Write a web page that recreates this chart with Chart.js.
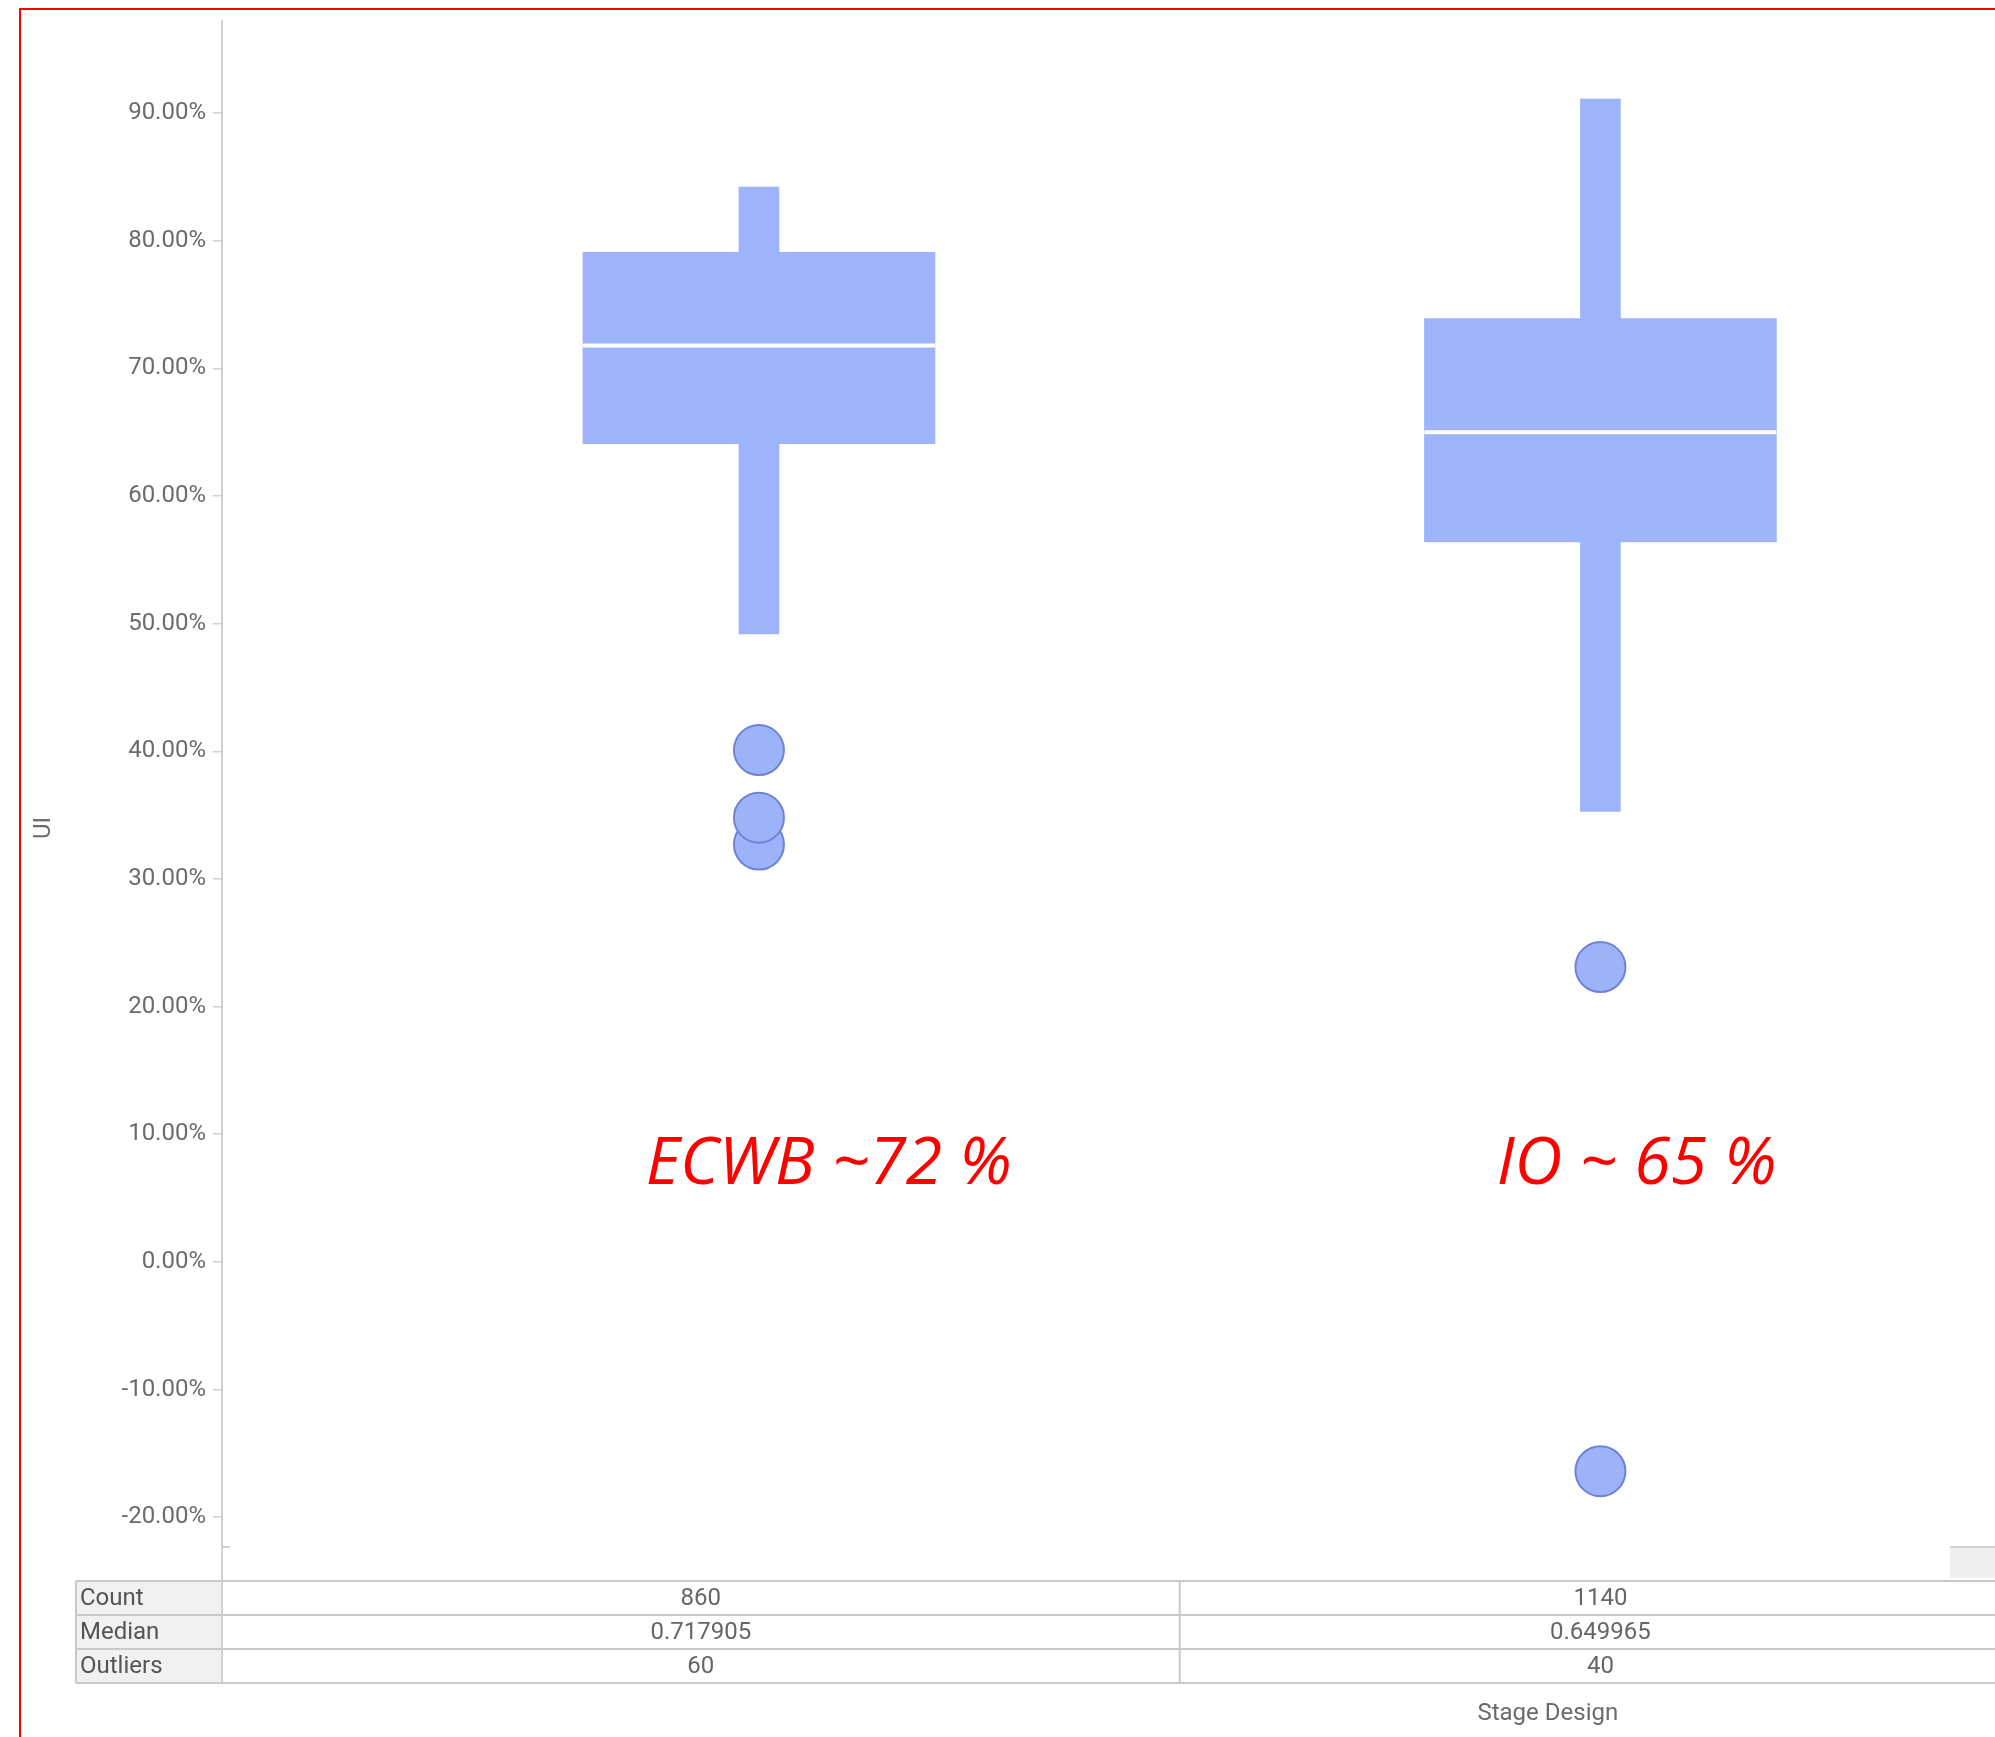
<!DOCTYPE html>
<html>
<head>
<meta charset="utf-8">
<script src="https://cdn.jsdelivr.net/npm/chart.js@4.4.1/dist/chart.umd.min.js"></script>
<style>
  html, body { margin: 0; padding: 0; background: #ffffff; overflow: hidden; }
  #wrap { position: relative; width: 1995px; height: 1737px; }
  #frame { position: absolute; left: 19px; top: 8px; width: 1995px; height: 1760px;
           border-top: 2px solid #ff0000; border-left: 2px solid #ff0000; pointer-events: none; z-index: 2; }
  canvas { position: absolute; left: 0; top: 0; }
</style>
</head>
<body>
<div id="wrap">
  <canvas id="c" width="1995" height="1737"></canvas>
  <div id="frame"></div>
</div>
<script>
// ---- data ----
const categories = ['ECWB', 'IO'];
const whiskerLow = [49.2, 35.3];
const whiskerHigh = [84.2, 91.1];
const q1 = [64.1, 56.4];
const q3 = [79.1, 73.9];
const medians = [71.79, 65.0];
const outlierCat = [0, 0, 0, 1, 1];
const outlierVals = [40.1, 32.7, 34.8, 23.1, -16.4];
const yTicks = [-20, -10, 0, 10, 20, 30, 40, 50, 60, 70, 80, 90];
const tableRows = ['Count', 'Median', 'Outliers'];
const counts = ['860', '1140'];
const medianText = ['0.717905', '0.649965'];
const outlierCounts = ['60', '40'];
const annotations = ['ECWB ~72 %', 'IO ~ 65 %'];
const yTitle = 'UI';
const xTitle = 'Stage Design';

// ---- styles ----
const BOX = '#9db4fb';
const GRAYTXT = '#6b6b6b';
const LINE = '#c9c9c9';

const annotationPlugin = {
  id: 'extras',
  afterDraw(chart) {
    const ctx = chart.ctx;
    const xs = chart.scales.x, ys = chart.scales.y;
    const ca = chart.chartArea;
    ctx.save();
    // annotation texts (anchored to data coordinates)
    const annX = [0.083, 1.043];
    const annY = 6.1;
    ctx.fillStyle = '#ff0000';
    ctx.font = 'italic 66px "Open Sans"';
    ctx.textAlign = 'center';
    ctx.textBaseline = 'alphabetic';
    annotations.forEach((t, i) => {
      ctx.fillText(t, xs.getPixelForValue(annX[i]), ys.getPixelForValue(annY));
    });

    // y title
    ctx.save();
    ctx.translate(44, 828);
    ctx.rotate(-Math.PI / 2);
    ctx.fillStyle = GRAYTXT;
    ctx.font = '24px Roboto';
    ctx.textAlign = 'center';
    ctx.textBaseline = 'middle';
    ctx.fillText(yTitle, 0, 0);
    ctx.restore();

    // table below the plot
    const top = 1581, rowH = 34, left = 76, right = chart.width;
    const axisX = ca.left;
    const divX = xs.getPixelForValue(0.5);
    const colCenters = [(axisX + divX) / 2, xs.getPixelForValue(1)];
    const bottom = top + rowH * tableRows.length;
    ctx.fillStyle = '#f1f1f1';
    ctx.fillRect(left, top, axisX - left, bottom - top);
    // small scroll box at bottom right
    ctx.fillStyle = '#f0f0f0';
    ctx.fillRect(1950, ca.bottom, right - 1950, 31);
    ctx.strokeStyle = '#d2d2d2';
    ctx.lineWidth = 2;
    ctx.beginPath(); ctx.moveTo(1950, ca.bottom); ctx.lineTo(right, ca.bottom); ctx.stroke();

    ctx.strokeStyle = LINE;
    ctx.lineWidth = 2;
    ctx.beginPath();
    for (let r = 0; r <= tableRows.length; r++) {
      ctx.moveTo(left, top + r * rowH);
      ctx.lineTo(right, top + r * rowH);
    }
    ctx.moveTo(left, top); ctx.lineTo(left, bottom);
    ctx.moveTo(divX, top); ctx.lineTo(divX, bottom);
    ctx.stroke();
    ctx.strokeStyle = '#d0d0d0';
    ctx.beginPath();
    ctx.moveTo(axisX, ca.bottom); ctx.lineTo(axisX, bottom);
    ctx.moveTo(axisX, ca.bottom); ctx.lineTo(axisX + 8, ca.bottom);
    ctx.stroke();

    ctx.font = '24px Roboto';
    ctx.textBaseline = 'middle';
    const cols = [counts, medianText, outlierCounts];
    tableRows.forEach((lab, r) => {
      const cy = top + r * rowH + rowH / 2 + 1;
      ctx.fillStyle = '#555555';
      ctx.textAlign = 'left';
      ctx.fillText(lab, left + 4, cy);
      ctx.fillStyle = '#666666';
      ctx.textAlign = 'center';
      cols[r].forEach((v, i) => ctx.fillText(v, colCenters[i], cy));
    });

    // x title
    ctx.fillStyle = GRAYTXT;
    ctx.textAlign = 'center';
    ctx.fillText(xTitle, xs.getPixelForValue(0.9375), 1714);
    ctx.restore();
  }
};

function build() {
  const boxData = categories.map((c, i) => ({ x: i, y: [q1[i], q3[i]] }));
  const whiskerData = categories.map((c, i) => ({ x: i, y: [whiskerLow[i], whiskerHigh[i]] }));
  const medianData = categories.map((c, i) => ({ x: i, y: medians[i] }));
  const outlierData = outlierVals.map((v, i) => ({ x: outlierCat[i], y: v }));

  new Chart(document.getElementById('c'), {
    type: 'bar',
    data: {
      datasets: [
        { type: 'scatter', label: 'Median', data: medianData, order: 0, clip: false,
          pointStyle: 'line', pointRadius: 176, pointHoverRadius: 176,
          borderColor: '#ffffff', pointBorderColor: '#ffffff', borderWidth: 4, pointBorderWidth: 4 },
        { type: 'scatter', label: 'Outliers', data: outlierData, order: 1,
          pointRadius: 25, pointHoverRadius: 25, backgroundColor: '#9db3f9',
          borderColor: '#6f82d6', borderWidth: 2 },
        { type: 'bar', label: 'Box', data: boxData, order: 2, grouped: false,
          barThickness: 352, backgroundColor: BOX, borderWidth: 0 },
        { type: 'bar', label: 'Whisker', data: whiskerData, order: 3, grouped: false,
          barThickness: 40, backgroundColor: BOX, borderWidth: 0 }
      ]
    },
    options: {
      responsive: false,
      animation: false,
      devicePixelRatio: 1,
      layout: { autoPadding: false, padding: { left: 0, right: 0, top: 17, bottom: 190 } },
      plugins: { legend: { display: false }, tooltip: { enabled: false } },
      scales: {
        x: { type: 'linear', display: false, offset: false, min: -0.6381, max: 1.4689 },
        y: {
          type: 'linear', min: -22.34, max: 97.19,
          afterBuildTicks: (s) => { s.ticks = yTicks.map(v => ({ value: v })); },
          afterFit: (s) => { s.width = 222; },
          border: { display: true, color: '#d0d0d0', width: 2 },
          grid: { display: true, drawOnChartArea: false, drawTicks: true, tickLength: 9,
                  color: '#cfcfcf', lineWidth: 1.5 },
          ticks: { padding: 7, color: GRAYTXT, font: { family: 'Roboto', size: 24 },
                   callback: (v) => v.toFixed(2) + '%' }
        }
      }
    },
    plugins: [annotationPlugin]
  });
}

Promise.all([
  document.fonts.load('24px Roboto'),
  document.fonts.load('italic 66px "Open Sans"')
]).then(build, build);
</script>
</body>
</html>
